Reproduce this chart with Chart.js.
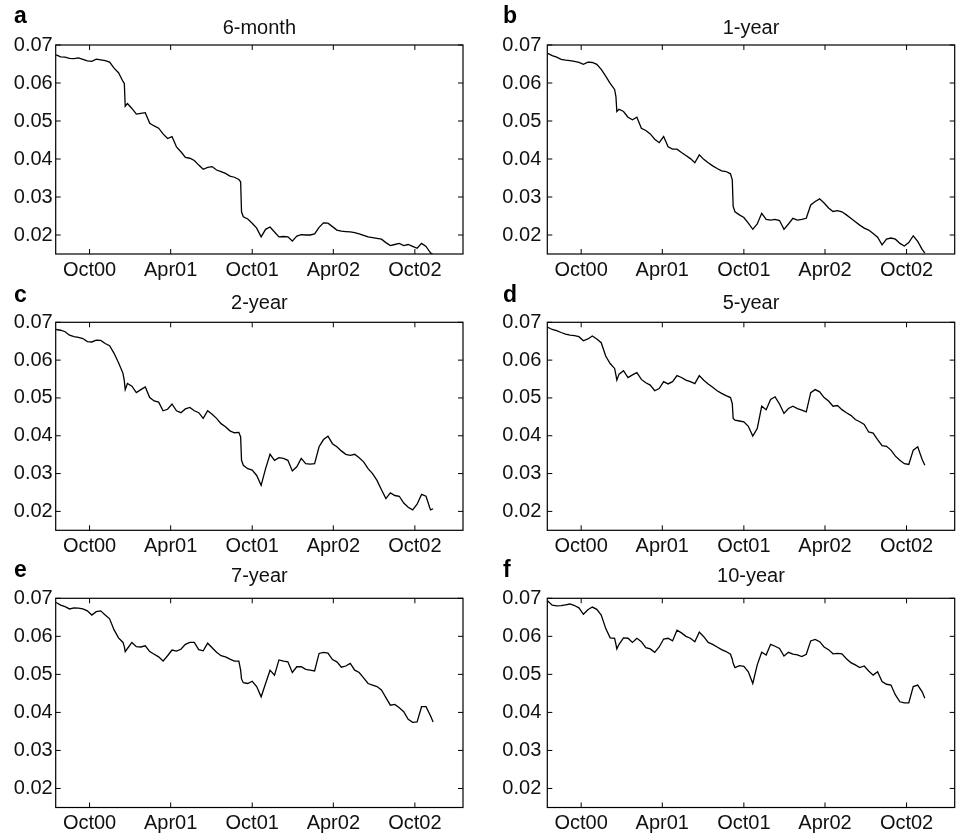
<!DOCTYPE html>
<html>
<head>
<meta charset="utf-8">
<script src="https://cdn.jsdelivr.net/npm/chart.js@4"></script>
<style>
  body { margin: 0; background: #fff; }
  #wrap { position: relative; width: 957px; height: 837px; overflow: hidden; }
  #wrap canvas { position: absolute; }
</style>
</head>
<body>
<div id="wrap"></div>
<script>
// days counted from 1 Oct 2000
const days = [-75,-65,-55,-45,-35,-25,-15,-5,5,15,25,35,45,55,65,75,78,80,
  85,95,105,115,125,135,145,155,165,175,185,195,205,215,225,235,245,255,265,275,285,295,305,315,325,335,339,341,
  345,355,365,375,385,395,405,415,425,435,445,455,465,475,485,495,505,515,525,535,545,555,565,575,585,595,605,615,625,635,645,655,665,675,685,695,705,715,725,735,745,755,765,771];

const tickDays = [0, 182, 365, 547, 730];
const tickLabels = ['Oct00', 'Apr01', 'Oct01', 'Apr02', 'Oct02'];
const yTicks = [0.02, 0.03, 0.04, 0.05, 0.06, 0.07];

const panelLetters = ['a', 'b', 'c', 'd', 'e', 'f'];
const panelTitles = ['6-month', '1-year', '2-year', '5-year', '7-year', '10-year'];

const rate6m = [0.0674,0.0669,0.0668,0.0665,0.0664,0.0666,0.0662,0.0658,0.0657,0.0663,0.0661,0.0659,0.0655,0.0639,0.0627,0.0604,0.0599,0.0539,
  0.0546,0.0533,0.0518,0.0520,0.0522,0.0494,0.0487,0.0481,0.0466,0.0454,0.0459,0.0432,0.0419,0.0404,0.0402,0.0396,0.0384,0.0373,0.0378,0.0380,0.0371,0.0367,0.0362,0.0355,0.0352,0.0346,0.0340,0.0261,
  0.0248,0.0242,0.0231,0.0218,0.0195,0.0215,0.0221,0.0208,0.0195,0.0196,0.0195,0.0184,0.0197,0.0201,0.0200,0.0200,0.0203,0.0220,0.0232,0.0231,
  0.0222,0.0213,0.0210,0.0209,0.0208,0.0206,0.0203,0.0199,0.0195,0.0193,0.0191,0.0189,0.0180,0.0172,0.0175,0.0178,0.0172,0.0175,0.0170,0.0165,
  0.0178,0.0170,0.0153,0.0148];

const rate1y = [0.0678,0.0672,0.0668,0.0662,0.0660,0.0659,0.0657,0.0654,0.0649,0.0655,0.0654,0.0649,0.0636,0.0618,0.0599,0.0583,0.0564,0.0525,
  0.0531,0.0525,0.0510,0.0503,0.0510,0.0481,0.0475,0.0466,0.0452,0.0443,0.0459,0.0432,0.0426,0.0426,0.0417,0.0409,0.0401,0.0390,0.0411,0.0399,0.0390,0.0382,0.0375,0.0369,0.0367,0.0361,0.0345,0.0275,
  0.0261,0.0253,0.0246,0.0231,0.0215,0.0229,0.0257,0.0241,0.0239,0.0241,0.0238,0.0215,0.0229,0.0244,0.0239,0.0241,0.0244,0.0279,0.0288,0.0295,
  0.0284,0.0271,0.0262,0.0264,0.0261,0.0253,0.0244,0.0235,0.0226,0.0218,0.0213,0.0204,0.0194,0.0174,0.0189,0.0192,0.0189,0.0178,0.0171,0.0180,
  0.0198,0.0183,0.0162,0.0152];

const rate2y = [0.0681,0.0679,0.0675,0.0666,0.0662,0.0660,0.0657,0.0649,0.0648,0.0653,0.0652,0.0644,0.0638,0.0618,0.0593,0.0565,0.0545,0.0522,
  0.0538,0.0531,0.0514,0.0522,0.0529,0.0501,0.0492,0.0489,0.0466,0.0470,0.0484,0.0466,0.0461,0.0471,0.0475,0.0466,0.0461,0.0446,0.0466,0.0457,0.0446,0.0432,0.0424,0.0413,0.0408,0.0409,0.0397,0.0335,
  0.0322,0.0313,0.0309,0.0295,0.0269,0.0313,0.0351,0.0335,0.0342,0.0340,0.0335,0.0307,0.0318,0.0340,0.0326,0.0325,0.0326,0.0371,0.0390,0.0399,
  0.0379,0.0371,0.0360,0.0351,0.0348,0.0351,0.0342,0.0331,0.0313,0.0300,0.0282,0.0257,0.0234,0.0249,0.0242,0.0240,0.0222,0.0211,0.0204,0.0219,
  0.0245,0.0240,0.0204,0.0207];

const rate5y = [0.0687,0.0681,0.0678,0.0673,0.0669,0.0666,0.0665,0.0662,0.0651,0.0656,0.0664,0.0656,0.0646,0.0611,0.0591,0.0578,0.0560,0.0547,
  0.0563,0.0572,0.0554,0.0561,0.0567,0.0549,0.0540,0.0534,0.0519,0.0525,0.0543,0.0537,0.0543,0.0559,0.0554,0.0547,0.0543,0.0538,0.0559,0.0547,0.0537,0.0528,0.0519,0.0512,0.0506,0.0501,0.0485,0.0446,
  0.0441,0.0439,0.0437,0.0425,0.0399,0.0419,0.0478,0.0469,0.0496,0.0503,0.0484,0.0459,0.0472,0.0478,0.0472,0.0468,0.0463,0.0514,0.0522,0.0516,
  0.0501,0.0492,0.0478,0.0480,0.0469,0.0461,0.0454,0.0443,0.0437,0.0430,0.0410,0.0407,0.0390,0.0374,0.0372,0.0362,0.0346,0.0335,0.0326,0.0324,
  0.0362,0.0371,0.0337,0.0322];

const rate7y = [0.0689,0.0682,0.0678,0.0672,0.0675,0.0674,0.0672,0.0667,0.0656,0.0665,0.0667,0.0656,0.0646,0.0617,0.0596,0.0584,0.0573,0.0560,
  0.0568,0.0584,0.0573,0.0572,0.0575,0.0560,0.0553,0.0546,0.0535,0.0549,0.0564,0.0561,0.0566,0.0579,0.0584,0.0584,0.0565,0.0562,0.0582,0.0570,0.0558,0.0549,0.0546,0.0540,0.0535,0.0535,0.0511,0.0488,
  0.0478,0.0476,0.0482,0.0468,0.0441,0.0476,0.0511,0.0498,0.0538,0.0535,0.0533,0.0505,0.0520,0.0520,0.0513,0.0511,0.0509,0.0555,0.0558,0.0556,
  0.0539,0.0533,0.0519,0.0522,0.0529,0.0511,0.0505,0.0491,0.0476,0.0472,0.0468,0.0459,0.0439,0.0419,0.0421,0.0412,0.0402,0.0382,0.0374,0.0375,
  0.0415,0.0415,0.0391,0.0375];

const rate10y = [0.0693,0.0682,0.0680,0.0681,0.0683,0.0685,0.0681,0.0675,0.0658,0.0670,0.0677,0.0671,0.0656,0.0621,0.0596,0.0595,0.0579,0.0567,
  0.0579,0.0596,0.0595,0.0584,0.0595,0.0586,0.0570,0.0567,0.0558,0.0572,0.0593,0.0595,0.0588,0.0616,0.0609,0.0600,0.0595,0.0586,0.0611,0.0599,0.0584,0.0579,0.0572,0.0565,0.0560,0.0553,0.0540,0.0529,
  0.0518,0.0523,0.0521,0.0507,0.0476,0.0525,0.0558,0.0551,0.0579,0.0574,0.0568,0.0548,0.0558,0.0553,0.0551,0.0547,0.0553,0.0588,0.0592,0.0586,
  0.0572,0.0565,0.0554,0.0555,0.0554,0.0541,0.0531,0.0525,0.0518,0.0522,0.0509,0.0498,0.0507,0.0481,0.0474,0.0472,0.0446,0.0428,0.0425,0.0425,
  0.0468,0.0472,0.0454,0.0437];

const series = [rate6m, rate1y, rate2y, rate5y, rate7y, rate10y];

// panel boxes (pixels)
const boxes = [
  { left: 0,   top: 0,   w: 478, h: 285, axisW: 55.7, yPad: 3, padR: 15,  axisH: 31,   tPad: { top: 16, bottom: 5 },    lx: 14, ly: 23.3 },
  { left: 478, top: 0,   w: 479, h: 285, axisW: 69.3, yPad: 6, padR: 2.3, axisH: 31,   tPad: { top: 16, bottom: 5 },    lx: 25, ly: 23.3 },
  { left: 0,   top: 277, w: 478, h: 285, axisW: 55.7, yPad: 3, padR: 15,  axisH: 31.7, tPad: { top: 14, bottom: 7.3 },  lx: 14, ly: 24.7 },
  { left: 478, top: 277, w: 479, h: 285, axisW: 69.3, yPad: 6, padR: 2.3, axisH: 31.7, tPad: { top: 14, bottom: 7.3 },  lx: 25, ly: 24.7 },
  { left: 0,   top: 553, w: 478, h: 284, axisW: 55.7, yPad: 3, padR: 15,  axisH: 29.5, tPad: { top: 11, bottom: 10.3 }, lx: 14, ly: 23.7 },
  { left: 478, top: 553, w: 479, h: 284, axisW: 69.3, yPad: 6, padR: 2.3, axisH: 29.5, tPad: { top: 11, bottom: 10.3 }, lx: 25, ly: 23.7 }
];

const FONT = '"Liberation Sans", Arial, Helvetica, sans-serif';

// box, inward ticks on all four sides and the panel letter
const framePlugin = {
  id: 'frame',
  afterDraw(chart, args, opts) {
    const { ctx, chartArea: a, scales: { x, y } } = chart;
    ctx.save();
    ctx.strokeStyle = '#000';
    ctx.lineWidth = 1.2;
    ctx.strokeRect(a.left, a.top, a.right - a.left, a.bottom - a.top);
    ctx.lineWidth = 1;
    ctx.beginPath();
    x.ticks.forEach(t => {
      const px = x.getPixelForValue(t.value);
      ctx.moveTo(px, a.bottom); ctx.lineTo(px, a.bottom - 5);
      ctx.moveTo(px, a.top); ctx.lineTo(px, a.top + 5);
    });
    y.ticks.forEach(t => {
      const py = y.getPixelForValue(t.value);
      ctx.moveTo(a.left, py); ctx.lineTo(a.left + 5, py);
      ctx.moveTo(a.right, py); ctx.lineTo(a.right - 5, py);
    });
    ctx.stroke();
    ctx.fillStyle = '#000';
    ctx.font = 'bold 23px ' + FONT;
    ctx.textBaseline = 'alphabetic';
    ctx.fillText(opts.letter, opts.x, opts.y);
    ctx.restore();
  }
};

const wrap = document.getElementById('wrap');

series.forEach((vals, i) => {
  const b = boxes[i];
  const canvas = document.createElement('canvas');
  canvas.width = b.w;
  canvas.height = b.h;
  canvas.style.left = b.left + 'px';
  canvas.style.top = b.top + 'px';
  wrap.appendChild(canvas);

  new Chart(canvas, {
    type: 'line',
    data: {
      datasets: [{
        data: days.map((d, k) => ({ x: d, y: vals[k] })),
        borderColor: '#000',
        borderWidth: 1.3,
        pointRadius: 0,
        tension: 0
      }]
    },
    options: {
      responsive: false,
      animation: false,
      devicePixelRatio: 1,
      layout: { padding: { left: 0, right: b.padR, top: 0, bottom: 0 } },
      plugins: {
        legend: { display: false },
        tooltip: { enabled: false },
        title: {
          display: true,
          text: panelTitles[i],
          fullSize: false,
          color: '#111',
          font: { family: FONT, size: 20, weight: 'normal' },
          padding: b.tPad
        },
        frame: { letter: panelLetters[i], x: b.lx, y: b.ly }
      },
      scales: {
        x: {
          type: 'linear',
          min: -76,
          max: 838,
          grid: { display: false, drawTicks: false },
          border: { display: false },
          afterBuildTicks: s => { s.ticks = tickDays.map(v => ({ value: v })); },
          afterFit: s => { s.height = b.axisH; },
          ticks: {
            autoSkip: false,
            maxRotation: 0,
            padding: 4,
            color: '#111',
            font: { family: FONT, size: 20 },
            callback: (v, idx) => tickLabels[idx]
          }
        },
        y: {
          min: 0.015,
          max: 0.07,
          grid: { display: false, drawTicks: false },
          border: { display: false },
          afterBuildTicks: s => { s.ticks = yTicks.map(v => ({ value: v })); },
          afterFit: s => { s.width = b.axisW; },
          ticks: {
            padding: b.yPad,
            color: '#111',
            font: { family: FONT, size: 20 },
            callback: v => v.toFixed(2)
          }
        }
      }
    },
    plugins: [framePlugin]
  });
});
</script>
</body>
</html>
